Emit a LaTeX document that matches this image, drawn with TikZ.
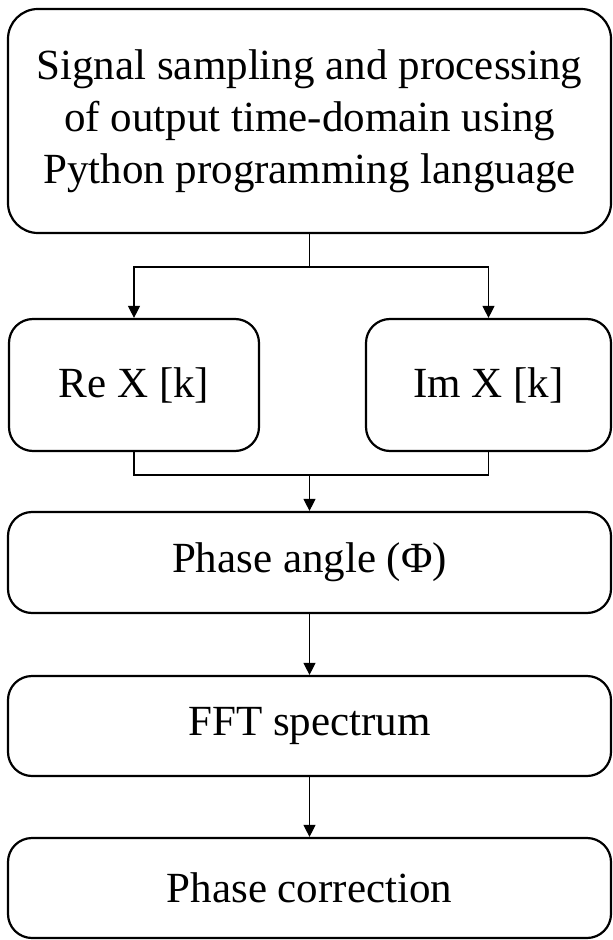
\documentclass[tikz,border=0pt]{standalone}
\usepackage{fontspec}
\setmainfont{Liberation Serif}
\usepackage{tikz}
\usetikzlibrary{arrows.meta, positioning, calc}

\begin{document}
\begin{tikzpicture}[
    x=0.5pt, y=-0.5pt,
    font=\fontsize{21.5}{26}\selectfont,
    kotak/.style={draw, line width=1.1pt, rounded corners=12pt, align=center,
                  minimum width=301.5pt, minimum height=50pt, inner sep=0pt},
    kecil/.style={kotak, minimum height=66pt},
    panah/.style={-{Triangle[length=6pt, width=6pt]}, line width=0.6pt},
    garis/.style={line width=0.6pt}
  ]
    \useasboundingbox (0,0) rectangle (612,940);
    \node[kotak, rounded corners=15pt, minimum height=112pt] (sinyal) at (309.5,121)
      {Signal sampling and processing\\of output time-domain using\\Python programming language};
    \node[kecil, minimum width=125pt] (re) at (134,385) {Re X [k]};
    \node[kecil, minimum width=122.5pt] (im) at (488.5,385) {Im X [k]};
    \node[kotak, minimum height=50.5pt] (fase) at (309.5,562.5) {Phase angle (Φ)};
    \node[kotak] (fft) at (309.5,726) {FFT spectrum};
    \node[kotak] (koreksi) at (309.5,888) {Phase correction};
    \coordinate (cabang) at (309.5,267);
    \coordinate (gabung) at (309.5,475);
    \draw[garis] (sinyal.south) -- (cabang);
    \draw[panah] (cabang) -| (re.north);
    \draw[panah] (cabang) -| (im.north);
    \draw[garis] (re.south) |- (gabung) -| (im.south);
    \draw[panah] (gabung) -- (fase.north);
    \draw[panah] (fase) -- (fft);
    \draw[panah] (fft) -- (koreksi);
  \end{tikzpicture}
\end{document}
